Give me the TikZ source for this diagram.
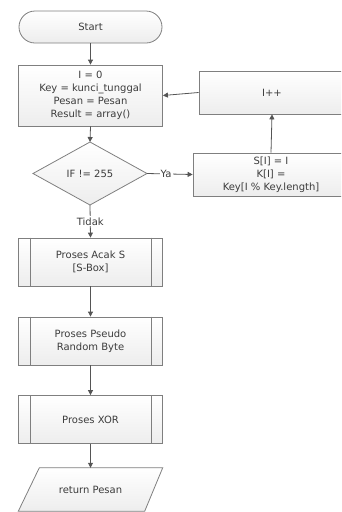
\documentclass[tikz,border=0pt]{standalone}
\usepackage{fontspec}
\setmainfont{DejaVu Sans}
\usetikzlibrary{arrows.meta,calc}
\definecolor{bordergray}{HTML}{7F7F7F}
\definecolor{txtgray}{HTML}{3C3C3C}
\definecolor{linegray}{HTML}{555555}
\begin{document}
\begin{tikzpicture}[x=1pt,y=-1pt,
  every node/.style={font=\fontsize{10}{13}\selectfont, text=txtgray, align=center, inner sep=0pt},
  boxstyle/.style={draw=bordergray, line width=0.8pt, top color=white, bottom color=gray!14},
  procbox/.style={boxstyle, rectangle, minimum width=144pt},
  term/.style={boxstyle, rounded corners=16pt, minimum width=143pt, minimum height=32pt},
  subbox/.style={procbox, minimum height=48pt},
  conn/.style={draw=linegray, line width=0.8pt, -{Triangle[width=5pt,length=5pt]}},
  lbl/.style={fill=white, inner sep=1pt}
]
\useasboundingbox (0,0) rectangle (341,512);
\clip (0,0) rectangle (341,512);
% nodes
\node[term] (start) at (90.5,27) {Start};
\node[procbox, minimum height=61pt] (init) at (90.5,95.5) {I = 0\\Key = kunci\_tunggal\\Pesan = Pesan\\Result = array()};
\node[procbox, minimum width=146pt, minimum height=43pt] (inc) at (272,92.5) {I++};
\node[boxstyle, draw, shape=rectangle, minimum width=156pt, minimum height=43pt] (sbox) at (271,174.5) {S[I] = I\\K[I] =\\Key[I \% Key.length]};
% diamond
\coordinate (dT) at (90,142);
\coordinate (dB) at (90,205);
\coordinate (dL) at (33,173.5);
\coordinate (dR) at (147,173.5);
\path[boxstyle] (dT) -- (dR) -- (dB) -- (dL) -- cycle;
\node (cond) at (90,173.5) {IF != 255};
% subroutine boxes
\node[subbox] (acak) at (90.5,262) {Proses Acak S\\{[S-Box]}};
\node[subbox] (prng) at (90.5,341) {Proses Pseudo\\Random Byte};
\node[subbox] (xor) at (90.5,419.5) {Proses XOR};
\foreach \n in {acak,prng,xor}{
  \draw[bordergray, line width=0.8pt] ($(\n.north west)+(12,0)$) -- ($(\n.south west)+(12,0)$);
  \draw[bordergray, line width=0.8pt] ($(\n.north east)+(-12,0)$) -- ($(\n.south east)+(-12,0)$);
}
% output parallelogram
\node[minimum width=144pt, minimum height=43pt] (ret) at (90.5,489.5) {};
\path[boxstyle] (ret.south west) -- ($(ret.south east)+(-18,0)$) -- (ret.north east) -- ($(ret.north west)+(21,0)$) -- cycle;
\node (rettext) at (ret.center) {return Pesan};
% connectors
\draw[conn] (start.south) -- (init.north);
\draw[conn] (init.south) -- (dT);
\draw[conn] (dR) -- node[lbl, pos=0.42] {Ya} (sbox.west);
\draw[conn] (sbox.north) -- (inc.south);
\draw[conn] (inc.west) -- (init.east);
\draw[conn] (dB) -- node[lbl, pos=0.5] {Tidak} (acak.north);
\draw[conn] (acak.south) -- (prng.north);
\draw[conn] (prng.south) -- (xor.north);
\draw[conn] (xor.south) -- (ret.north);
\end{tikzpicture}
\end{document}
